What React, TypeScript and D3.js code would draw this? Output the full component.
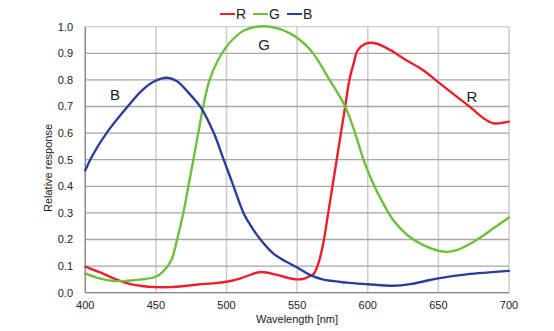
import React from "react";
import * as d3 from "d3";

const wlR = [400, 410, 420, 430, 440, 450, 460, 470, 480, 490, 500, 510, 520, 525, 535, 545, 550, 555, 558, 561.6, 565, 568.5, 572, 575, 578, 581, 584, 587, 590, 593, 599, 606, 616, 627, 639, 651, 663, 672, 682, 689, 700];
const valR = [0.098, 0.077, 0.054, 0.035, 0.025, 0.021, 0.021, 0.025, 0.031, 0.035, 0.041, 0.054, 0.073, 0.078, 0.068, 0.054, 0.05, 0.053, 0.06, 0.07, 0.11, 0.186, 0.3, 0.4, 0.5, 0.6, 0.7, 0.8, 0.862, 0.912, 0.937, 0.937, 0.912, 0.875, 0.837, 0.787, 0.737, 0.7, 0.656, 0.637, 0.643];

const wlG = [400, 410, 420, 430, 440, 450, 455, 461, 465, 469.4, 473, 476.5, 480, 483.5, 488, 494, 500, 504, 512, 521, 533, 545, 559, 573, 584, 591, 597, 603, 609, 618, 628, 639, 654, 663, 677, 689, 700];
const valG = [0.073, 0.054, 0.044, 0.045, 0.05, 0.06, 0.079, 0.123, 0.2, 0.3, 0.4, 0.5, 0.6, 0.7, 0.8, 0.875, 0.925, 0.95, 0.985, 1.0, 0.998, 0.975, 0.915, 0.8, 0.7, 0.6, 0.5, 0.42, 0.355, 0.273, 0.217, 0.18, 0.154, 0.16, 0.198, 0.242, 0.283];

const wlB = [400, 405, 415, 430, 440, 449, 458, 465, 473, 482, 491, 498, 505, 512, 518, 524, 533, 541, 550, 559, 568, 585, 600, 618, 630, 640, 650, 670, 700];
const valB = [0.46, 0.515, 0.6, 0.7, 0.76, 0.795, 0.808, 0.795, 0.752, 0.695, 0.6, 0.5, 0.4, 0.3, 0.245, 0.2, 0.148, 0.12, 0.095, 0.067, 0.05, 0.038, 0.032, 0.026, 0.032, 0.043, 0.054, 0.069, 0.082];

const xTicks = [400, 450, 500, 550, 600, 650, 700];
const yTicks = [0, 0.1, 0.2, 0.3, 0.4, 0.5, 0.6, 0.7, 0.8, 0.9, 1.0];

const series = [
  { name: "R", wl: wlR, val: valR, color: "#e8202a" },
  { name: "G", wl: wlG, val: valG, color: "#6cc03c" },
  { name: "B", wl: wlB, val: valB, color: "#2b3e9c" },
];

export default function App() {
  const W = 554, H = 331;
  const x = d3.scaleLinear().domain([400, 700]).range([85.3, 509]);
  const y = d3.scaleLinear().domain([0, 1]).range([292.7, 26.7]);
  const font = "Liberation Sans, Arial, sans-serif";
  const line = d3
    .line<[number, number]>()
    .x((d) => x(d[0]))
    .y((d) => y(d[1]))
    .curve(d3.curveCatmullRom.alpha(0.5));

  const legendX = [220, 253, 287];

  return (
    <svg width={W} height={H} style={{ position: "absolute", left: 0, top: 0, background: "#fff" }}>
      {xTicks.map((t) => (
        <line key={"vx" + t} x1={x(t)} x2={x(t)} y1={y(1)} y2={y(0)} stroke="#cfcfcf" strokeWidth={1.6} />
      ))}
      {yTicks.map((t) => (
        <line key={"hy" + t} x1={x(400)} x2={x(700)} y1={y(t)} y2={y(t)} stroke={t === 1 ? "#cfcfcf" : "#a6a6a6"} strokeWidth={1.3} />
      ))}
      <line x1={x(400)} x2={x(400)} y1={y(1)} y2={y(0)} stroke="#8a8a8a" strokeWidth={1.3} />
      <line x1={x(400)} x2={x(700)} y1={y(0)} y2={y(0)} stroke="#8a8a8a" strokeWidth={1.3} />
      {yTicks.map((t) => (
        <text key={"yl" + t} x={73} y={y(t)} dy="0.35em" textAnchor="end" fontFamily={font} fontSize={11} fill="#222">
          {t.toFixed(1)}
        </text>
      ))}
      {xTicks.map((t) => (
        <text key={"xl" + t} x={x(t)} y={305} dy="0.35em" textAnchor="middle" fontFamily={font} fontSize={11} fill="#222">
          {t}
        </text>
      ))}
      <text x={297} y={319} dy="0.35em" textAnchor="middle" fontFamily={font} fontSize={11} fill="#222">
        Wavelength [nm]
      </text>
      <text transform="translate(48,168) rotate(-90)" dy="0.35em" textAnchor="middle" fontFamily={font} fontSize={11} fill="#222">
        Relative response
      </text>
      {series.map((s) => (
        <path
          key={s.name}
          d={line(s.wl.map((w, i) => [w, s.val[i]] as [number, number])) || ""}
          fill="none"
          stroke={s.color}
          strokeWidth={2.4}
          strokeLinejoin="round"
          strokeLinecap="round"
        />
      ))}
      {series.map((s, i) => (
        <g key={"lg" + s.name}>
          <line x1={legendX[i]} x2={legendX[i] + 15} y1={14} y2={14} stroke={s.color} strokeWidth={2} />
          <text x={legendX[i] + 16} y={14} dy="0.35em" fontFamily={font} fontSize={14} fill="#222">
            {s.name}
          </text>
        </g>
      ))}
      <text x={115} y={95} dy="0.35em" textAnchor="middle" fontFamily={font} fontSize={15} fill="#222">B</text>
      <text x={264} y={45} dy="0.35em" textAnchor="middle" fontFamily={font} fontSize={15} fill="#222">G</text>
      <text x={472} y={97} dy="0.35em" textAnchor="middle" fontFamily={font} fontSize={15} fill="#222">R</text>
    </svg>
  );
}
